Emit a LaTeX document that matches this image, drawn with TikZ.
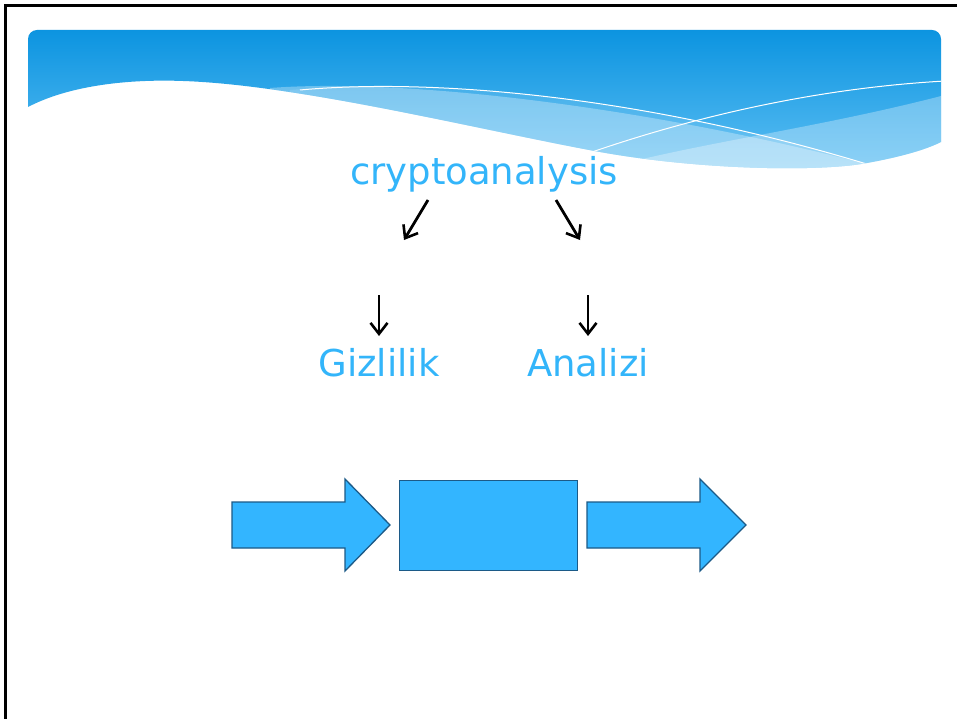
\documentclass[tikz,border=0pt]{standalone}
\usepackage{fontspec}
\setmainfont{DejaVu Sans}
\usetikzlibrary{arrows.meta}
\definecolor{txtblue}{RGB}{51,181,250}
\definecolor{boxblue}{RGB}{51,181,255}
\definecolor{boxline}{RGB}{28,90,135}
\definecolor{bantop}{RGB}{12,148,224}
\definecolor{banbot}{RGB}{95,192,244}
\tikzset{
  lbl/.style={text=txtblue, font=\fontsize{37}{44}\selectfont, anchor=base, inner sep=0pt},
  conn/.style={line width=2.8pt, -{Straight Barb[length=11pt,width=17pt,line width=2.6pt]}},
  blockshape/.style={fill=boxblue, draw=boxline, line width=1.3pt, line join=miter}
}
\begin{document}
\begin{tikzpicture}[x=1pt,y=-1pt]
\useasboundingbox (0,0) rectangle (957,719);
\fill[white] (0,0) rectangle (957,719);
% frame
\draw[line width=3pt] (5,719) -- (5,6) -- (957,6);
% banner
\begin{scope}
\clip (28,107) .. controls (70,85) and (130,79) .. (183,81)
  .. controls (300,85) and (480,130) .. (600,152)
  .. controls (700,170) and (820,172) .. (867,163)
  .. controls (900,157) and (925,150) .. (941,142)
  [rounded corners=9pt] -- (941,30) -- (28,30) [sharp corners] -- cycle;
\shade[top color=bantop, bottom color=banbot] (20,30) rectangle (950,175);
\fill[white, opacity=0.12] (290,90) .. controls (430,78) and (640,95) .. (870,165) -- (870,200) -- (270,200) -- cycle;
\fill[white, opacity=0.3] (270,88) .. controls (400,78) and (640,105) .. (870,165) -- (870,200) -- (270,200) -- cycle;
\fill[white, opacity=0.3] (630,162) .. controls (720,140) and (830,125) .. (945,95) -- (945,200) -- cycle;
\draw[white, line width=1pt] (300,90) .. controls (430,78) and (640,95) .. (870,165);
\draw[white, line width=1pt] (592,152) .. controls (700,115) and (820,88) .. (945,81);
\end{scope}
% texts
\node[lbl] (crypto) at (484,185) {cryptoanalysis};
\node[lbl] (giz) at (379,376) {Gizlilik};
\node[lbl] (ana) at (588,376) {Analizi};
% connectors
\coordinate (a1s) at (428,200);
\coordinate (a1e) at (404,240);
\coordinate (a2s) at (556,200);
\coordinate (a2e) at (580,240);
\coordinate (a3s) at (379,295);
\coordinate (a3e) at (379,336);
\coordinate (a4s) at (588,295);
\coordinate (a4e) at (588,336);
\draw[conn] (a1s) -- (a1e);
\draw[conn] (a2s) -- (a2e);
\draw[conn] (a3s) -- (a3e);
\draw[conn] (a4s) -- (a4e);
% block arrows
\draw[blockshape] (232,502) -- (345,502) -- (345,479) -- (390,525) -- (345,571) -- (345,548) -- (232,548) -- cycle;
\node[blockshape, minimum width=178pt, minimum height=90pt, inner sep=0pt, anchor=north west] (box) at (399,480) {};
\draw[blockshape] (587,502) -- (700,502) -- (700,479) -- (746,525) -- (700,571) -- (700,548) -- (587,548) -- cycle;
\end{tikzpicture}
\end{document}
